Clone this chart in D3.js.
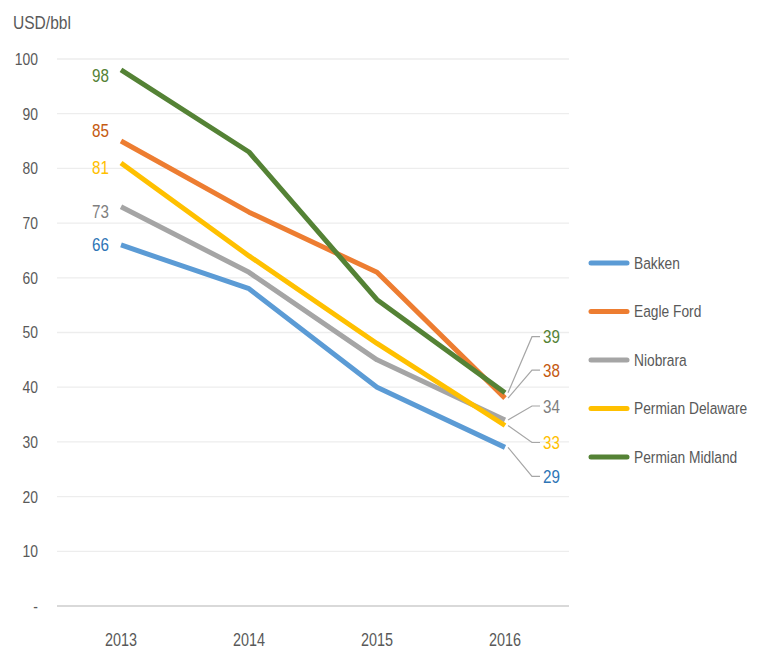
<!DOCTYPE html>
<html>
<head>
<meta charset="utf-8">
<script src="https://cdn.jsdelivr.net/npm/d3@7"></script>
<style>
  body { margin: 0; background: #fff; }
  svg text { font-family: "Liberation Sans", Arial, sans-serif; }
</style>
</head>
<body>
<div id="chart"></div>
<script>
(function() {

    var width = 760;
    var height = 671;

    // data
    var years = ['2013', '2014', '2015', '2016'];
    var seriesNames = ['Bakken', 'Eagle Ford', 'Niobrara', 'Permian Delaware', 'Permian Midland'];
    var bakken = [66, 58, 40, 29];
    var eagleFord = [85, 72, 61, 38];
    var niobrara = [73, 61, 45, 34];
    var permianDelaware = [81, 64, 48, 33];
    var permianMidland = [98, 83, 56, 39];
    var yTicks = [0, 10, 20, 30, 40, 50, 60, 70, 80, 90, 100];
    var unitLabel = 'USD/bbl';

    var allValues = [bakken, eagleFord, niobrara, permianDelaware, permianMidland];
    var lineColors = ['#5B9BD5', '#ED7D31', '#A5A5A5', '#FFC000', '#548235'];
    var labelColors = ['#2E75B6', '#C55A11', '#7F7F7F', '#FFC000', '#548235'];
    // small manual nudges for the end labels, as in the original
    var startNudge = [-1, -11, 5, 4, 5];
    var endNudge = [29, -28, -14, 17, -56];

    var series = seriesNames.map(function(name, i) {
        return { name: name, values: allValues[i], color: lineColors[i], lblColor: labelColors[i], i: i };
    });

    // the original uses a condensed font, squeeze the text horizontally
    // around its own anchor point
    function squeeze(sel, k) {
        sel.each(function() {
            var ax = +this.getAttribute('x') || 0;
            this.setAttribute('transform',
                'translate(' + ax + ',0) scale(' + k + ',1) translate(' + (-ax) + ',0)');
        });
    }

    var svg = d3.select('#chart').append('svg')
        .attr('width', width)
        .attr('height', height);

    var x = d3.scaleBand().domain(years).range([57, 569]).paddingInner(0).paddingOuter(0);
    var y = d3.scaleLinear().domain([0, 100]).range([606, 59]);
    var cx = function(yr) { return x(yr) + x.bandwidth() / 2; };

    // gridlines
    svg.append('g').selectAll('line')
        .data(yTicks)
        .enter()
        .append('line')
        .attr('x1', 57)
        .attr('x2', 569)
        .attr('y1', function(d) { return y(d); })
        .attr('y2', function(d) { return y(d); })
        .style('stroke', function(d) { return d === 0 ? '#D9D9D9' : '#EDEDED'; })
        .style('stroke-width', function(d) { return d === 0 ? 2 : 1.3; });

    // y tick labels
    svg.append('g').selectAll('text')
        .data(yTicks)
        .enter()
        .append('text')
        .attr('x', 38)
        .attr('y', function(d) { return y(d); })
        .attr('dy', '0.35em')
        .attr('text-anchor', 'end')
        .style('font-size', '17px')
        .style('fill', '#595959')
        .text(function(d) { return d === 0 ? '-' : d; })
        .call(squeeze, 0.82);

    svg.append('text')
        .attr('x', 13)
        .attr('y', 29)
        .style('font-size', '19px')
        .style('fill', '#595959')
        .text(unitLabel)
        .call(squeeze, 0.82);

    // x labels
    svg.append('g').selectAll('text')
        .data(years)
        .enter()
        .append('text')
        .attr('x', function(d) { return cx(d); })
        .attr('y', 646)
        .attr('text-anchor', 'middle')
        .style('font-size', '18px')
        .style('fill', '#595959')
        .text(function(d) { return d; })
        .call(squeeze, 0.8);

    // lines
    var line = d3.line()
        .x(function(d, i) { return cx(years[i]); })
        .y(function(d) { return y(d); });

    svg.append('g').selectAll('path')
        .data(series)
        .enter()
        .append('path')
        .attr('d', function(d) { return line(d.values); })
        .style('fill', 'none')
        .style('stroke', function(d) { return d.color; })
        .style('stroke-width', 5)
        .style('stroke-linejoin', 'round');

    // start labels
    var first = years[0];
    var last = years[years.length - 1];
    svg.append('g').selectAll('text')
        .data(series)
        .enter()
        .append('text')
        .attr('x', cx(first) - 12)
        .attr('y', function(d) { return y(d.values[0]) + startNudge[d.i]; })
        .attr('dy', '0.35em')
        .attr('text-anchor', 'end')
        .style('font-size', '19px')
        .style('fill', function(d) { return d.lblColor; })
        .text(function(d) { return d.values[0]; })
        .call(squeeze, 0.8);

    // end labels with leader lines
    var lblX = 543;
    var n = years.length - 1;
    svg.append('g').selectAll('path')
        .data(series)
        .enter()
        .append('path')
        .attr('d', function(d) {
            var px = cx(last) + 3, py = y(d.values[n]);
            var ly = py + endNudge[d.i];
            return 'M' + px + ',' + py + 'L' + (lblX - 11) + ',' + ly + 'L' + (lblX - 3) + ',' + ly;
        })
        .style('fill', 'none')
        .style('stroke', '#A6A6A6')
        .style('stroke-width', 1.2);

    svg.append('g').selectAll('text')
        .data(series)
        .enter()
        .append('text')
        .attr('x', lblX)
        .attr('y', function(d) { return y(d.values[n]) + endNudge[d.i]; })
        .attr('dy', '0.35em')
        .style('font-size', '19px')
        .style('fill', function(d) { return d.lblColor; })
        .text(function(d) { return d.values[n]; })
        .call(squeeze, 0.8);

    // legend
    var legend = svg.append('g').selectAll('g')
        .data(series)
        .enter()
        .append('g')
        .attr('transform', function(d, i) { return 'translate(591,' + (263 + i * 48.5) + ')'; });

    legend.append('line')
        .attr('x1', 0)
        .attr('x2', 36)
        .style('stroke', function(d) { return d.color; })
        .style('stroke-width', 5)
        .style('stroke-linecap', 'round');

    legend.append('text')
        .attr('x', 43)
        .attr('dy', '0.35em')
        .style('font-size', '17px')
        .style('fill', '#595959')
        .text(function(d) { return d.name; })
        .call(squeeze, 0.81);

})();
</script>
</body>
</html>
